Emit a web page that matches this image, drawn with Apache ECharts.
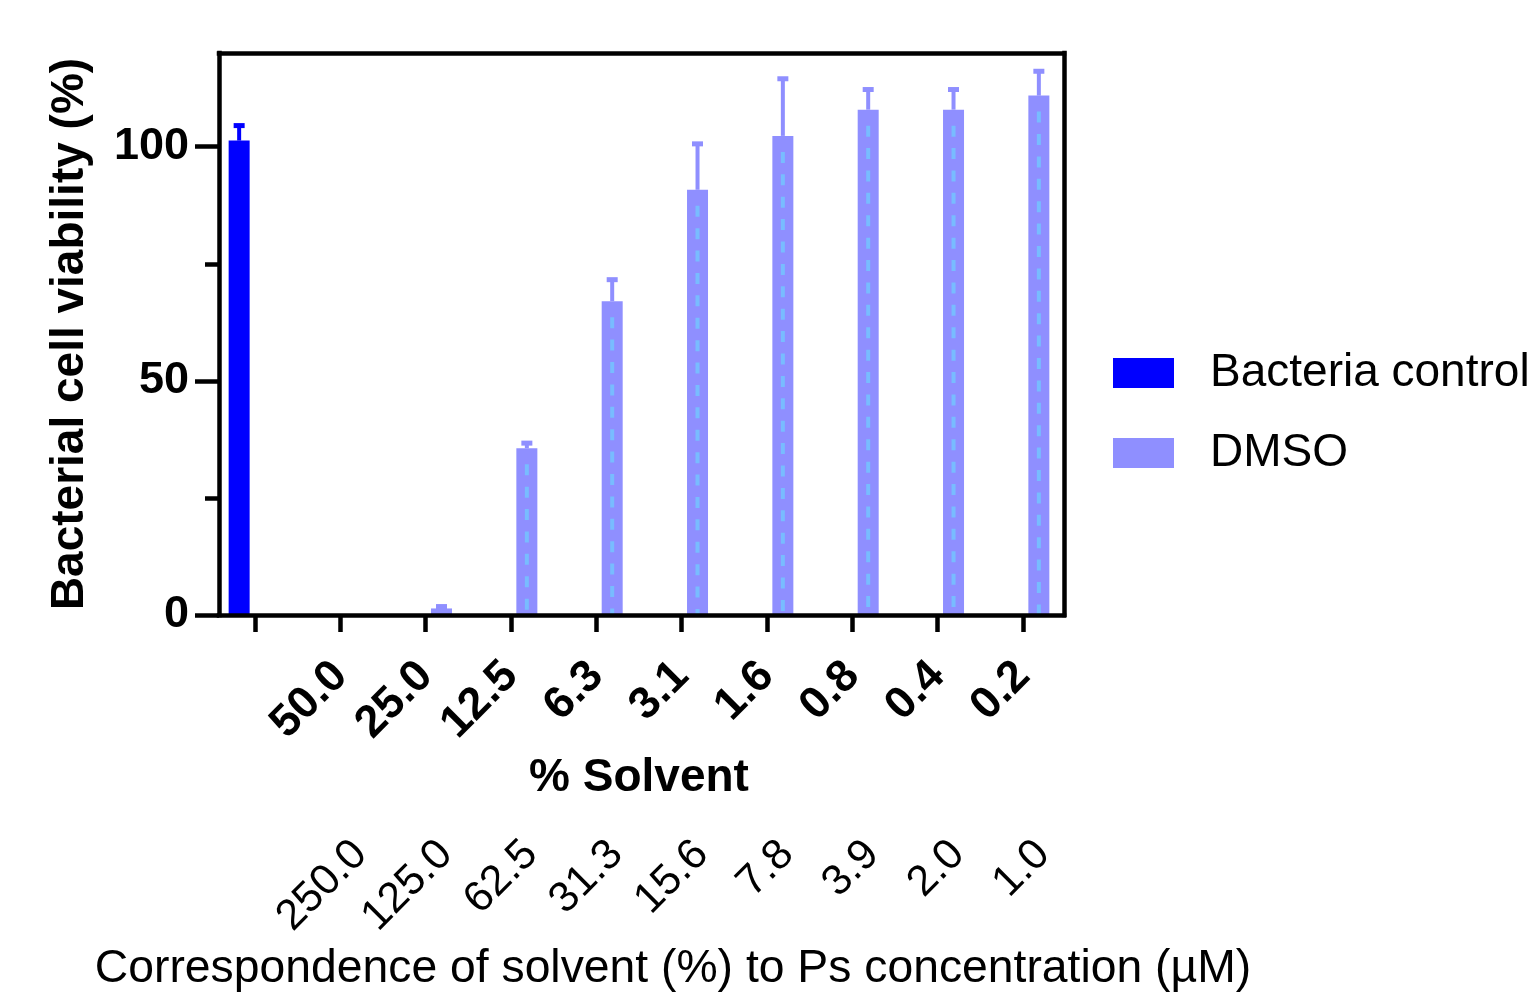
<!DOCTYPE html>
<html><head><meta charset="utf-8">
<script src="https://cdn.jsdelivr.net/npm/echarts@6/dist/echarts.min.js"></script>
<style>html,body{margin:0;padding:0;background:#fff}#c{width:1531px;height:997px}</style>
</head><body><div id="c"></div>
<script>
// ---------- data ----------
const solventLabels = ['', '50.0', '25.0', '12.5', '6.3', '3.1', '1.6', '0.8', '0.4', '0.2'];
const concLabels    = ['', '250.0', '125.0', '62.5', '31.3', '15.6', '7.8', '3.9', '2.0', '1.0'];
const controlMean = [101.3, null, null, null, null, null, null, null, null, null];
const controlSD   = [3.2,   null, null, null, null, null, null, null, null, null];
const dmsoMean = [null, 0, 1.4, 35.6, 67.0, 90.8, 102.3, 107.9, 107.9, 110.9];
const dmsoSD   = [null, 0, 0.4, 1.1,  4.6,  9.8,  12.2,  4.3,   4.3,   5.2];
const yTicks = [0, 50, 100];
const yMinorTicks = [25, 75];

// ---------- style ----------
const FONT = '"Liberation Sans", Arial, sans-serif';
const BLUE = '#0000ff', PURPLE = '#8f8fff', DASH = '#78bcff';
const BAR_W = 21, BAR_GAP = 0.51;
const HALF = (BAR_W + BAR_W * BAR_GAP) / 2;
const G = {top: 53, bottom: 382};
const frameRect = {left: 219, right: 467, top: G.top, bottom: G.bottom};
const dataRect  = {left: 212.33, right: 465.33, top: G.top, bottom: G.bottom};
const lblRect   = {left: 232.33, right: 445.33, top: G.top, bottom: G.bottom};
const LW = 4.5;
const lineS = {color: '#000', width: LW, cap: 'square'};

function errData(mean, sd) {
  const out = [];
  mean.forEach((m, i) => { if (m != null && sd[i] > 0) out.push([i, m, sd[i]]); });
  return out;
}
function errRender(offset, color) {
  return function (params, api) {
    const i = api.value(0), m = api.value(1), s = api.value(2);
    const p0 = api.coord([i, m]), p1 = api.coord([i, m + s]);
    const x = p0[0] + offset;
    return {type: 'group', children: [
      {type: 'line', shape: {x1: x, y1: p0[1], x2: x, y2: p1[1]}, style: {stroke: color, lineWidth: 4}},
      {type: 'line', shape: {x1: x - 5.5, y1: p1[1], x2: x + 5.5, y2: p1[1]}, style: {stroke: color, lineWidth: 5}}
    ]};
  };
}
const dashData = [];
dmsoMean.forEach((m, i) => { if (m != null) dashData.push([i, m]); });

const hiddenX = (gi) => ({gridIndex: gi, type: 'value', min: 0, max: 1, show: false});
const hiddenY = (gi) => ({gridIndex: gi, type: 'value', min: 0, max: 120, show: false});

const option = {
  animation: false,
  backgroundColor: '#fff',
  textStyle: {fontFamily: FONT, color: '#000'},
  grid: [frameRect, frameRect, dataRect, lblRect],
  legend: {
    orient: 'vertical', left: 1113, top: 350, padding: 0, icon: 'rect',
    itemWidth: 61, itemHeight: 30, itemGap: 34,
    data: ['Bacteria control', 'DMSO'],
    textStyle: {fontFamily: FONT, fontSize: 46, color: '#000', lineHeight: 46, padding: [0, 0, 0, 31]}
  },
  xAxis: [
    {gridIndex: 0, type: 'value', min: 0, max: 1, position: 'bottom', z: 10,
     axisLine: {show: true, onZero: false, lineStyle: lineS}, axisTick: {show: false}, axisLabel: {show: false}, splitLine: {show: false}},
    {gridIndex: 0, type: 'value', min: 0, max: 1, position: 'top', z: 10,
     axisLine: {show: true, onZero: false, lineStyle: lineS}, axisTick: {show: false}, axisLabel: {show: false}, splitLine: {show: false}},
    hiddenX(1),
    {gridIndex: 2, type: 'category', data: solventLabels, position: 'bottom', z: 10,
     axisLine: {show: false},
     axisTick: {show: true, alignWithLabel: true, interval: 0, length: 17, lineStyle: {color: '#000', width: LW}},
     axisLabel: {interval: 0, rotate: 45, margin: 54, fontSize: 45, fontWeight: 'bold', color: '#000', fontFamily: FONT},
     name: '% Solvent', nameLocation: 'middle', nameGap: 140,
     nameTextStyle: {fontSize: 46, fontWeight: 'bold', color: '#000', fontFamily: FONT}},
    {gridIndex: 3, type: 'category', data: concLabels, position: 'bottom',
     axisLine: {show: false}, axisTick: {show: false},
     axisLabel: {interval: 0, rotate: 45, margin: 242, fontSize: 43, color: '#000', fontFamily: FONT},
     name: 'Correspondence of solvent (%) to Ps concentration (µM)', nameLocation: 'middle', nameGap: 333,
     nameTextStyle: {fontSize: 46.3, color: '#000', fontFamily: FONT, padding: [0, 0, 0, 28]}}
  ],
  yAxis: [
    {gridIndex: 0, type: 'value', min: 0, max: 120, position: 'left', z: 10,
     axisLine: {show: true, onZero: false, lineStyle: lineS},
     axisTick: {show: true, customValues: yTicks, length: 24, lineStyle: {color: '#000', width: LW}},
     axisLabel: {show: true, customValues: yTicks, margin: 30, fontSize: 45, fontWeight: 'bold', color: '#000', fontFamily: FONT},
     splitLine: {show: false},
     name: 'Bacterial cell viability (%)', nameLocation: 'middle', nameGap: 126,
     nameTextStyle: {fontSize: 46, fontWeight: 'bold', color: '#000', fontFamily: FONT}},
    {gridIndex: 0, type: 'value', min: 0, max: 120, position: 'right', z: 10,
     axisLine: {show: true, onZero: false, lineStyle: lineS}, axisTick: {show: false}, axisLabel: {show: false}, splitLine: {show: false}},
    {gridIndex: 1, type: 'value', min: 0, max: 120, position: 'left', z: 10,
     axisLine: {show: false},
     axisTick: {show: true, customValues: yMinorTicks, length: 14, lineStyle: {color: '#000', width: LW}},
     axisLabel: {show: false}, splitLine: {show: false}},
    hiddenY(2),
    hiddenY(3)
  ],
  series: [
    {name: 'Bacteria control', type: 'bar', xAxisIndex: 3, yAxisIndex: 3, data: controlMean,
     barWidth: BAR_W, barGap: (BAR_GAP * 100) + '%', itemStyle: {color: BLUE}},
    {name: 'DMSO', type: 'bar', xAxisIndex: 3, yAxisIndex: 3, data: dmsoMean,
     barWidth: BAR_W, barGap: (BAR_GAP * 100) + '%', itemStyle: {color: PURPLE}},
    {name: 'dmsoDash', type: 'custom', xAxisIndex: 3, yAxisIndex: 3, z: 3, data: dashData, silent: true,
     renderItem: function (params, api) {
       const i = api.value(0), m = api.value(1);
       const t = api.coord([i, m]), b = api.coord([i, 0]);
       if (b[1] - t[1] < 24) return null;
       const x = t[0] + HALF;
       return {type: 'line', shape: {x1: x, y1: t[1] + 16, x2: x, y2: b[1]},
               style: {stroke: DASH, lineWidth: 4, lineDash: [11, 11.4]}};
     }},
    {name: 'controlErr', type: 'custom', xAxisIndex: 3, yAxisIndex: 3, z: 4, silent: true,
     data: errData(controlMean, controlSD), renderItem: errRender(-HALF, BLUE)},
    {name: 'dmsoErr', type: 'custom', xAxisIndex: 3, yAxisIndex: 3, z: 4, silent: true,
     data: errData(dmsoMean, dmsoSD), renderItem: errRender(HALF, PURPLE)}
  ]
};
const chart = echarts.init(document.getElementById('c'), null, {renderer: 'canvas'});
chart.setOption(option);
</script></body></html>
